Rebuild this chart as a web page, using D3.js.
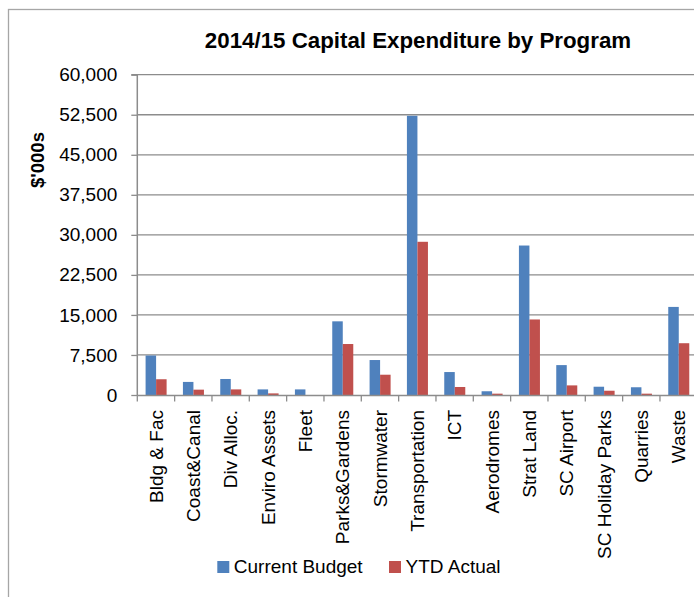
<!DOCTYPE html>
<html>
<head>
<meta charset="utf-8">
<script src="https://cdn.jsdelivr.net/npm/d3@7"></script>
<style>
  html, body { margin: 0; padding: 0; background: #fff; }
  svg { display: block; }
  text { font-family: "Liberation Sans", Arial, sans-serif; fill: #000; }
</style>
</head>
<body>
<svg id="chart" width="694" height="597"></svg>
<script>
const categories = ["Bldg & Fac", "Coast&Canal", "Div Alloc.", "Enviro Assets", "Fleet",
  "Parks&Gardens", "Stormwater", "Transportation", "ICT", "Aerodromes", "Strat Land",
  "SC Airport", "SC Holiday Parks", "Quarries", "Waste"];
const currentBudget = [7400, 2450, 3000, 1050, 1050, 13800, 6550, 52300, 4300, 700, 28000, 5600, 1550, 1450, 16500];
const ytdActual = [2950, 1000, 1050, 300, 0, 9550, 3800, 28700, 1500, 250, 14150, 1800, 800, 250, 9700];
const seriesNames = ["Current Budget", "YTD Actual"];
const seriesColors = ["#4F81BD", "#C0504D"];
const yTicks = [0, 7500, 15000, 22500, 30000, 37500, 45000, 52500, 60000];
const titleText = "2014/15 Capital Expenditure by Program";
const yTitle = "$'000s";

const svg = d3.select("#chart");
const plot = { left: 137.3, right: 697.3, top: 74.7, bottom: 395 };

// chart frame (cropped on right/bottom)
svg.append("rect")
  .attr("x", 8.5).attr("y", 9.5)
  .attr("width", 720).attr("height", 640)
  .attr("fill", "#fff").attr("stroke", "#a6a6a6").attr("stroke-width", 1.3);

const x = d3.scaleBand().domain(categories).range([plot.left, plot.right]).paddingInner(0).paddingOuter(0);
const bw = x.bandwidth();
const x1 = d3.scaleBand().domain(seriesNames).range([bw * 0.222, bw * 0.785]);
const y = d3.scaleLinear().domain([0, 60000]).range([plot.bottom, plot.top]);

// gridlines
svg.append("g").selectAll("line").data(yTicks.filter(d => d > 0)).join("line")
  .attr("x1", plot.left).attr("x2", plot.right)
  .attr("y1", d => y(d)).attr("y2", d => y(d))
  .attr("stroke", "#8c8c8c").attr("stroke-width", 1.3);

// y axis
const yAxis = d3.axisLeft(y).tickValues(yTicks).tickSize(6).tickPadding(14)
  .tickFormat(d3.format(","));
const gy = svg.append("g").attr("transform", `translate(${plot.left},0)`).call(yAxis);
gy.select(".domain").attr("stroke", "#8c8c8c").attr("stroke-width", 1.5).attr("d", `M-6,${plot.top}H0V${plot.bottom}`);
gy.selectAll(".tick line").attr("stroke", "#8c8c8c").attr("stroke-width", 1.3);
gy.selectAll(".tick text").attr("font-size", 19).attr("font-family", '"Liberation Sans", Arial, sans-serif').attr("fill", "#000");

// bars
const data = categories.map((c, i) => ({ cat: c, vals: [currentBudget[i], ytdActual[i]] }));
const groups = svg.append("g").selectAll("g").data(data).join("g")
  .attr("transform", d => `translate(${x(d.cat)},0)`);
groups.selectAll("rect").data(d => d.vals.map((v, j) => ({ v, s: seriesNames[j], c: seriesColors[j] })))
  .join("rect")
  .attr("x", d => x1(d.s))
  .attr("width", x1.bandwidth())
  .attr("y", d => y(d.v))
  .attr("height", d => y(0) - y(d.v))
  .attr("fill", d => d.c);

// x axis
const xAxis = d3.axisBottom(x).tickSize(0).tickFormat(d => d);
const gx = svg.append("g").attr("transform", `translate(0,${plot.bottom})`).call(xAxis);
gx.select(".domain").attr("stroke", "#8c8c8c").attr("stroke-width", 1.5);
gx.selectAll(".tick text")
  .attr("font-size", 19).attr("font-family", '"Liberation Sans", Arial, sans-serif').attr("fill", "#000")
  .attr("text-anchor", "end")
  .attr("transform", "translate(0,15) rotate(-90)")
  .attr("x", 0).attr("y", 0).attr("dy", "0.35em");
// category boundary ticks
svg.append("g").selectAll("line").data(categories.concat(["__end"])).join("line")
  .attr("x1", (d, i) => plot.left + i * bw).attr("x2", (d, i) => plot.left + i * bw)
  .attr("y1", plot.bottom).attr("y2", plot.bottom + 6.5)
  .attr("stroke", "#8c8c8c").attr("stroke-width", 1.3);

// title
svg.append("text").attr("x", 418).attr("y", 48)
  .attr("text-anchor", "middle").attr("font-size", 22.3).attr("font-weight", "bold")
  .text(titleText);

// y title
svg.append("text").attr("transform", "translate(44,160) rotate(-90)")
  .attr("text-anchor", "middle").attr("font-size", 18.5).attr("font-weight", "bold")
  .text(yTitle);

// legend
const legendX = [217.3, 389];
const lg = svg.append("g").selectAll("g").data(seriesNames).join("g")
  .attr("transform", (d, i) => `translate(${legendX[i]},561)`);
lg.append("rect").attr("width", 12).attr("height", 12).attr("fill", (d, i) => seriesColors[i]);
lg.append("text").attr("x", 16.5).attr("y", 11.5).attr("font-size", 19).text(d => d);
</script>
</body>
</html>
